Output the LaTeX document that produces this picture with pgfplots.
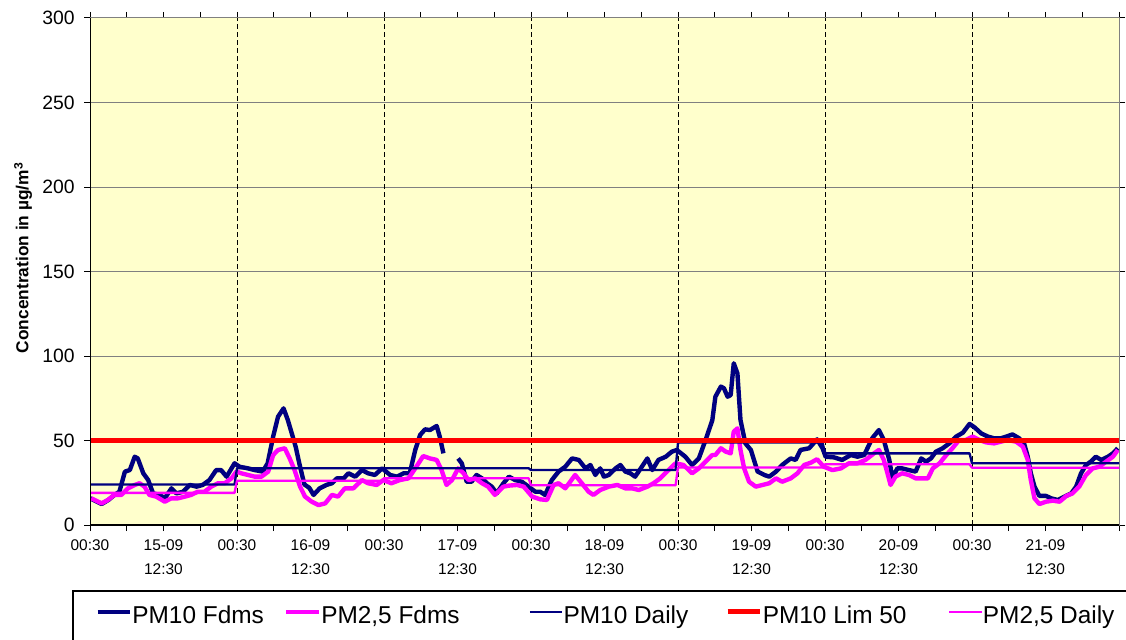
\documentclass[border=0pt]{standalone}
\usepackage{pgfplots}
\pgfplotsset{compat=1.18}
\usepackage{fontspec}
\setmainfont{Liberation Sans}
\definecolor{navyc}{HTML}{000080}
\definecolor{magc}{HTML}{FF00FF}
\definecolor{redc}{HTML}{FF0000}
\definecolor{bgc}{HTML}{FFFFCC}
\pgfplotstableread{
h v
0 15.8
1.9 12.4
3 14.8
4 17.8
4.8 19.7
5.7 31.6
6.5 32.5
7.3 40.4
7.8 39.4
8.7 30.6
9.5 26.6
10.3 18.7
11.4 17.8
12.2 15.8
13.3 21.7
14.1 18.7
15.2 19.7
16.3 23.7
17.4 22.7
18.4 23.7
19.5 26.6
20.6 32.5
21.4 32.5
22.3 28.6
23.6 36.5
24.4 34.5
25.8 33.5
26.9 32.5
28.2 31.6
29 36.5
29.9 52.3
30.7 64.1
31.6 69
32.3 62.1
33.1 52.3
33.6 46
34.2 36
35 24
35.8 22
36.5 17.8
37.5 21.7
38.6 23.7
39.5 24.7
40.3 27.6
41.4 27.6
42.2 30.6
43.3 28.6
44.4 32.5
45.4 30.6
46.5 29.6
47.7 33.5
49 29.6
50.1 28.6
51.2 30.6
52.2 30.6
53.1 44.4
53.9 53.3
54.7 56.6
55.5 56.2
56.6 58.6
57.1 52.3
57.7 42.4
59 nan
60.1 39.4
60.7 36.5
61.5 25.6
62.3 25.6
63.1 29.6
64 27.6
64.8 24.7
65.6 22.7
66.4 18.7
67.5 24.7
68.4 28.6
69.4 26.6
70.5 25.6
71.6 22.7
72.7 19.7
73.5 19.7
74.3 17.8
75.4 26.6
76.5 31.6
77.6 34.5
78.7 39.4
79.8 38.5
80.9 33.5
81.7 35.5
82.5 29.6
83.3 33.5
83.9 28.6
84.7 29.6
85.8 33.5
86.6 35.5
87.4 31.6
88.2 30.6
89 28.6
90.1 34.5
91 39.4
91.8 32.5
92.8 38.5
94 40.4
95 43.4
95.8 44.4
97.2 40.4
98.3 35.5
99.4 39.4
100.5 50.3
101.6 62
102.1 75.9
103 81.9
103.5 80.9
104.1 75.9
104.6 76.9
105.1 95.7
105.7 89.7
106.2 62.1
107 48.3
107.9 44.4
108.4 38.5
109 31.6
110.1 29.6
110.9 28.6
112 31.6
113 35.5
114.4 39.4
115.2 38.5
116 44.4
117.4 45.4
118.7 50.7
119.6 45.4
120.1 40.4
121.5 40
122.8 38.5
124.2 41.4
125.3 40.4
126.4 41.4
127.7 51.3
128.8 56.2
129.6 50.3
130.5 38.5
131 27.6
131.8 33.5
132.6 33.5
133.7 32.5
134.8 31.6
135.7 39.4
136.5 37.5
137.3 39.4
138.1 43.4
139.2 45.4
140.3 48.3
141.4 52.3
142.5 54.6
143.6 59.8
144.4 57.8
145.5 54.2
146.6 52.3
147.6 51.3
148.7 51.3
149.6 52.3
150.6 53.6
151.7 51.3
152.5 48.3
153.1 40.4
153.6 30.6
154.2 22.7
155 17.2
156.1 17.2
156.9 15.8
158 14.8
159.1 16.8
160.2 18.7
161 22.7
161.8 30.6
162.6 35.5
163.4 37.5
164.2 40.4
165.1 38.5
166.2 40.4
167 42.4
167.8 45.4
}\pmtenfdms
\pgfplotstableread{
h v
0.2 15.8
1.9 12.8
2.9 14.8
4 17.8
5.1 17.8
6.2 21.7
7.3 23.7
8.1 24.7
8.9 22.7
9.7 17.8
10.8 16.8
12.2 13.8
13.3 15.8
14.4 15.8
15.5 16.8
16.5 17.8
17.6 19.7
18.7 19.7
19.8 22.7
20.9 24.7
22 24.7
23.1 27.6
23.9 31.6
24.7 30.6
25.8 29.6
26.9 28.6
28 28.6
29.1 31.6
29.9 41.4
30.7 44.4
31.8 45.4
32.6 39.4
33.4 32.5
34.3 22.7
35.1 16.8
36.2 13.8
37.3 11.8
38.4 12.8
39.5 17.8
40.5 16.8
41.6 21.7
43 21.7
44.4 26.6
45.4 24.7
46.8 23.7
47.9 26.6
49.2 24.7
50.6 26.6
52 27.6
53.1 33.5
54.4 40.8
55.5 39.4
56.6 38.5
57.4 32.5
58.2 23.7
59.1 26.6
60.1 33.5
61 30.6
61.8 26.6
62.9 27.6
64 24.7
65 22.7
66.1 17.8
67.5 22.7
68.4 23.3
69.7 23.7
70.8 22.7
72.2 16.8
73.5 15.2
74.6 14.8
75.7 23.7
76.5 24.7
77.6 21.7
78.4 25.6
79.2 29.6
80.3 24.7
81.4 19.7
82.2 17.8
83.3 20.7
84.7 22.7
86.1 23.7
87.4 21.7
88.5 21.7
89.6 20.7
91 22.7
92 24.7
93.1 27.6
94.2 31.6
95.6 36.5
96.9 35.5
98.3 30.6
99.4 33.5
100.5 37.5
101.6 41.4
102.1 41.4
103 45.4
103.8 43.4
104.6 42.4
105.1 55.2
105.7 57.2
106.2 44.4
106.8 33.5
107.6 25.6
108.7 22.7
109.8 23.7
110.9 24.7
112 27.6
113 25.6
114.4 27.6
115.5 30.6
116.6 35.5
117.7 36.9
118.7 38.9
119.8 34.5
121.2 32.5
122.6 33.5
123.9 36.5
125.3 36.5
126.6 38.5
128 42.4
128.8 44.4
129.6 38.5
130.2 30.6
130.7 23.7
131.5 28.6
132.6 30.6
133.7 29.6
134.8 27.6
136 27.6
136.8 27.6
137.6 33.5
138.7 36.5
139.8 41.4
140.8 45.4
141.9 50.3
143 50.3
144.1 52.3
145.2 50.3
146.3 48.9
147.6 48.3
148.7 49.3
149.8 50.3
151.2 49.3
152.3 46.4
153.1 38.5
153.6 26.6
154.2 15.8
155 12.4
156.1 13.8
157.2 14.4
158.3 13.8
159.4 17.2
160.4 18.7
161.5 22.7
162.6 29.6
163.7 33.5
164.8 34.5
165.9 37.5
167 40.4
167.8 44.4
}\pmtwofdms
\pgfplotstableread{
h v
0 24
23.6 24
24 33.6
47.6 33.6
48 33.6
71.6 33.6
72 32.5
95.6 32.5
96 48.8
119.6 48.8
120 42.4
143.6 42.4
144 36.5
168 36.5
}\pmtendaily
\pgfplotstableread{
h v
0 19
23.6 19
24 26.2
47.6 26.2
48 27.7
71.6 27.7
72 23.5
95.6 23.5
96 34
119.6 34
120 35.9
143.6 35.9
144 33.9
168 33.9
}\pmtwodaily
\pgfplotstableread{
h v
0 50
168 50
}\pmlim
\begin{document}
\begin{tikzpicture}
\begin{axis}[
  scale only axis, width=771.75pt, height=380.25pt,
  at={(67.5pt,85.5pt)}, anchor=south west,
  xmin=0, xmax=168, ymin=0, ymax=300,
  axis background/.style={fill=bgc},
  axis line style={draw=gray, line width=0.75pt},
  ytick={0,50,...,300},
  ymajorgrids,
  major grid style={gray, line width=0.75pt},
  xtick={0,12,...,156},
  xticklabels={00:30,{15-09\\[4pt]12:30},00:30,{16-09\\[4pt]12:30},00:30,{17-09\\[4pt]12:30},00:30,{18-09\\[4pt]12:30},00:30,{19-09\\[4pt]12:30},00:30,{20-09\\[4pt]12:30},00:30,{21-09\\[4pt]12:30}},
  minor xtick={6,18,...,162,168},
  extra x ticks={24,48,...,144},
  extra x tick labels={},
  extra x tick style={grid=major, major grid style={black, line width=0.75pt, dash pattern=on 3.5pt off 2.5pt}, major tick length=0pt},
  tick align=outside,
  major tick length=4.5pt, minor tick length=4.5pt,
  tick style={black, line width=0.75pt},
  xticklabel style={align=center, font=\fontsize{11.6}{14}\selectfont, yshift=-3pt},
  yticklabel style={font=\fontsize{14.5}{17}\selectfont, xshift=-3.5pt},
  /pgf/number format/assume math mode=true,
  ylabel={\textbf{Concentration in µg/m\textsuperscript{3}}},
  ylabel style={font=\fontsize{13}{15}\selectfont, at={(axis description cs:-0.0651,0.527)}, anchor=center},
  unbounded coords=jump,
  legend columns=5,
  legend style={at={(axis description cs:0.0049,-0.166)}, anchor=north west, draw=none, fill=none,
    font=\fontsize{18.3}{22}\selectfont, inner sep=0pt,
    nodes={inner sep=0pt, text height=0.75em, text depth=0.25em},
    /tikz/every odd column/.style={column sep=0pt},
    /tikz/column 2/.style={column sep=15.25pt},
    /tikz/column 4/.style={column sep=51.75pt},
    /tikz/column 6/.style={column sep=27.75pt},
    /tikz/column 8/.style={column sep=31pt}},
  legend image code/.code={\draw[#1] (0pt,6pt) -- (24.5pt,6pt);},
  line join=round,
]
\addplot[navyc, line width=3.3pt] table[x=h,y=v] {\pmtenfdms};
\addlegendentry{PM10 Fdms}
\addplot[magc, line width=3.3pt] table[x=h,y=v] {\pmtwofdms};
\addlegendentry{PM2,5 Fdms}
\addplot[navyc, line width=1.75pt] table[x=h,y=v] {\pmtendaily};
\addlegendentry{PM10 Daily}
\addplot[redc, line width=3.6pt] table[x=h,y=v] {\pmlim};
\addlegendentry{PM10 Lim 50}
\addplot[magc, line width=1.75pt] table[x=h,y=v] {\pmtwodaily};
\addlegendentry{PM2,5 Daily}
\draw[black, line width=1pt] (rel axis cs:0,1) -- (rel axis cs:0,0) -- (rel axis cs:1,0);
\end{axis}
\draw[black, line width=1pt] (54.75pt,-30pt) -- (54.75pt,36pt) -- (900pt,36pt);
\pgfresetboundingbox
\path[use as bounding box] (0,0) rectangle (844.5pt,479.25pt);
\end{tikzpicture}
\end{document}
